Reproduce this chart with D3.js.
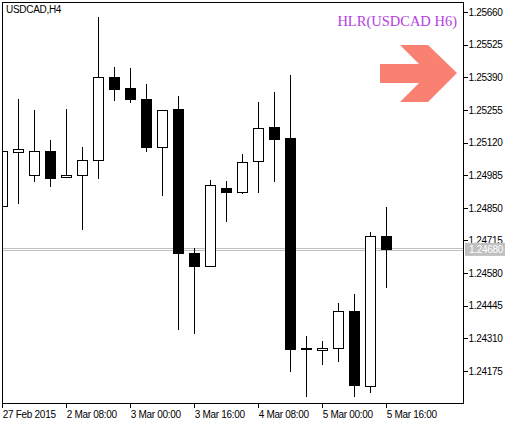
<!DOCTYPE html>
<html><head><meta charset="utf-8">
<script src="https://cdn.jsdelivr.net/npm/d3@7"></script>
<style>body{margin:0;background:#fff}svg{display:block}</style>
</head><body><svg id="c" width="515" height="423"></svg>
<script>
const opens  = [1.24856,1.25080,1.24984,1.25084,1.24976,1.24984,1.25046,1.25390,1.25344,1.25299,1.25099,1.25257,1.24662,1.24607,1.24931,1.24913,1.25042,1.25184,1.25135,1.24269,1.24261,1.24269,1.24423,1.24110,1.24732];
const highs  = [1.25085,1.25300,1.25255,1.25131,1.25259,1.25102,1.25639,1.25432,1.25428,1.25362,1.25253,1.25313,1.24682,1.24965,1.24961,1.25073,1.25288,1.25329,1.25398,1.24320,1.24299,1.24458,1.24494,1.24750,1.24853];
const lows   = [1.24856,1.24867,1.24958,1.24938,1.24976,1.24760,1.24971,1.25293,1.25285,1.25082,1.24900,1.24346,1.24327,1.24607,1.24791,1.24909,1.24913,1.24958,1.24172,1.24069,1.24201,1.24213,1.24069,1.24083,1.24520];
const closes = [1.25085,1.25092,1.25084,1.24971,1.24984,1.25046,1.25390,1.25339,1.25297,1.25099,1.25253,1.24660,1.24607,1.24943,1.24913,1.25038,1.25179,1.25132,1.24263,1.24263,1.24269,1.24422,1.24114,1.24732,1.24677];
const yTicks = [1.25660,1.25525,1.25390,1.25255,1.25120,1.24985,1.24850,1.24715,1.24580,1.24445,1.24310,1.24175];
const xTickIdx = [0,4,8,12,16,20,24];
const xTickLabels = ["27 Feb 2015","2 Mar 08:00","3 Mar 00:00","3 Mar 16:00","4 Mar 08:00","5 Mar 00:00","5 Mar 16:00"];
const currentPrice = 1.24680;

const FONT = "'Liberation Sans', Arial, sans-serif";
const svg = d3.select("#c");
const L=2,R=463,T=2,B=403;
const y = d3.scaleLinear().domain([1.24175,1.25660]).range([371,12]);
const x = d3.scaleLinear().domain([0,1]).range([2.3,18.3]);

const g = svg.append("g");
g.append("defs").append("clipPath").attr("id","cl").append("rect").attr("x",L).attr("y",T).attr("width",R-L).attr("height",B-T);
const plot = g.append("g").attr("clip-path","url(#cl)").attr("shape-rendering","crispEdges");

[-1,1].forEach(d=>plot.append("line").attr("x1",L).attr("x2",R).attr("y1",Math.round(y(currentPrice))+d+0.5).attr("y2",Math.round(y(currentPrice))+d+0.5).attr("stroke","#c0c0c0"));

opens.forEach((o,i)=>{
  const cx=Math.round(x(i))+0.5;
  plot.append("line").attr("x1",cx).attr("x2",cx).attr("y1",y(highs[i])).attr("y2",y(lows[i])).attr("stroke","#000");
  const top=Math.min(y(o),y(closes[i])), h=Math.max(1,Math.abs(y(o)-y(closes[i])));
  plot.append("rect").attr("x",cx-5).attr("y",top).attr("width",10).attr("height",h)
    .attr("fill",closes[i]>=o?"#fff":"#000").attr("stroke","#000");
});

g.append("rect").attr("x",L+0.5).attr("y",T+0.5).attr("width",R-L).attr("height",B-T).attr("fill","none").attr("stroke","#000").attr("shape-rendering","crispEdges");

const yAx = g.append("g").attr("transform",`translate(${R+0.5},0)`).call(d3.axisRight(y).tickValues(yTicks).tickSize(4).tickFormat(d3.format(".5f")));
yAx.select(".domain").remove();
yAx.selectAll("line").attr("shape-rendering","crispEdges");
yAx.selectAll("text").attr("font-size",10).attr("x",5).attr("fill","#000").attr("font-family",FONT).attr("letter-spacing","-0.3");
const cy=y(currentPrice);
g.append("rect").attr("x",465).attr("y",cy-6).attr("width",40).attr("height",13).attr("fill","#c0c0c0");
g.append("text").attr("x",469).attr("y",cy+4).attr("font-size",10).attr("font-family",FONT).attr("letter-spacing","-0.3").attr("fill","#fff").text(currentPrice.toFixed(5));

const xAx = g.append("g").attr("transform",`translate(0,${B+0.5})`).call(d3.axisBottom(x).tickValues(xTickIdx).tickSize(4).tickFormat((d,k)=>xTickLabels[k]));
xAx.select(".domain").remove();
xAx.selectAll(".tick line").attr("shape-rendering","crispEdges");
xAx.selectAll("text").attr("font-size",10).attr("font-family",FONT).attr("letter-spacing","-0.3").attr("text-anchor","start").attr("x",0).attr("dy",0).attr("y",14).attr("fill","#000");

svg.append("text").attr("x",6).attr("y",13).attr("font-size",10).attr("font-family",FONT).attr("letter-spacing","-0.3").text("USDCAD,H4");
svg.append("text").attr("x",457).attr("y",26).attr("text-anchor","end").attr("font-size",14.5)
  .attr("font-family","'Liberation Serif', serif").attr("fill","#b43ee0").text("HLR(USDCAD H6)");
svg.append("polygon").attr("fill","#fa8072")
  .attr("points","380,64 419,64 400,45 428,45 457,73 428,102 400,102 419,83 380,83");
</script></body></html>
